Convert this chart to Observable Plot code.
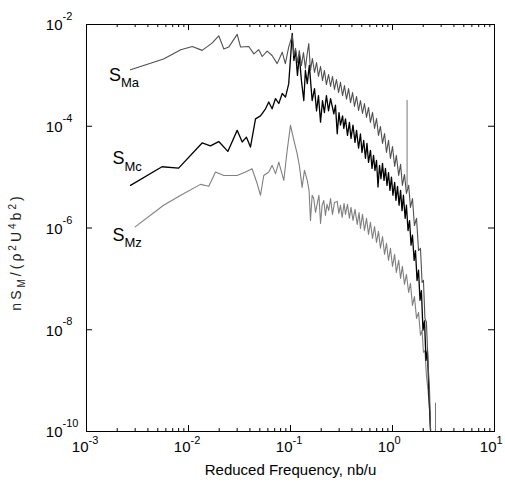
<!DOCTYPE html>
<html><head><meta charset="utf-8">
<script src="https://cdn.jsdelivr.net/npm/d3@7"></script>
<script src="https://cdn.jsdelivr.net/npm/@observablehq/plot@0.6"></script>
<style>
body{margin:0;background:#fff;}
#wrap{position:relative;width:505px;height:484px;font-family:"Liberation Sans",Arial,sans-serif;}
#ylab{position:absolute;left:17px;top:252px;transform:translate(-50%,-50%) rotate(-90deg);white-space:nowrap;font-size:14px;letter-spacing:3px;color:#222;}
#ylab sub{font-size:10px;}
#ylab sup{font-size:10px;}
</style></head><body>
<div id="wrap"><div id="ylab">nS<sub>M</sub>/(ρ<sup>2</sup>U<sup>4</sup>b<sup>2</sup>)</div></div>
<script>
// Reduced frequency nb/u, spectrum value
const seriesMa = [[0.0027,1.29e-3],[0.0057,2.1e-3],[0.0084,3.2e-3],[0.0109,3.7e-3],[0.0136,3.1e-3],[0.017,4.3e-3],[0.0198,6.0e-3],[0.0222,3.3e-3],[0.0248,3.6e-3],[0.030,6.4e-3],[0.0324,3.6e-3],[0.039,3.7e-3],[0.0437,2.65e-3],[0.0489,3.2e-3],[0.0528,2.35e-3],[0.059,3.0e-3],[0.066,2.46e-3],[0.074,1.7e-3],[0.083,2.86e-3],[0.089,1.7e-3],[0.096,3.6e-3],[0.104,6.1e-3],[0.108,2.46e-3],[0.112,3.4e-3],[0.117,1.78e-3],[0.122,3.08e-3],[0.128,1.56e-3],[0.134,2.82e-3],[0.140,1.37e-3],[0.145,2.46e-3],[0.151,4.2e-3],
[0.157,1.25e-3],[0.164,2.15e-3],[0.172,1.14e-3],[0.180,1.79e-3],[0.188,9.5e-4],[0.197,1.50e-3],[0.206,7.9e-4],[0.215,1.25e-3],[0.225,6.6e-4],[0.236,1.04e-3],[0.247,6.05e-4],[0.258,9.5e-4],[0.270,5.3e-4],[0.282,8.3e-4],[0.296,4.6e-4],[0.309,7.3e-4],[0.324,4.0e-4],[0.338,6.3e-4],[0.354,3.4e-4],[0.371,5.5e-4],[0.388,2.9e-4],[0.406,4.6e-4],[0.424,2.45e-4],[0.444,3.85e-4],[0.465,2.04e-4],[0.485,3.2e-4],[0.508,1.78e-4],[0.531,2.8e-4],[0.556,1.49e-4],[0.582,2.34e-4],[0.608,1.19e-4],[0.637,1.87e-4],[0.667,9.1e-5],[0.697,1.42e-4],[0.729,6.6e-5],[0.762,9.9e-5],[0.798,4.6e-5],[0.836,7.2e-5],[0.873,3.05e-5],[0.914,5.3e-5],[0.955,2.33e-5],[1.00,4.0e-5],[1.05,1.62e-5],[1.09,2.67e-5],[1.15,1.08e-5],[1.20,1.78e-5],[1.25,6.9e-6],[1.31,1.13e-5],[1.37,4.8e-6],[1.44,6.9e-6],[1.50,2.54e-6],[1.57,3.8e-6],[1.64,1.12e-6],[1.72,1.55e-6],[1.80,3.6e-7],[1.88,4.0e-7],[1.95,8.5e-8],[2.01,9.4e-8],[2.08,1.67e-8],[2.15,1.40e-8],[2.23,2.3e-9],[2.31,5.9e-10],[2.36,1.06e-10]];

const seriesMc = [[0.0027,6.9e-6],[0.0055,1.6e-5],[0.0080,1.5e-5],[0.0136,4.7e-5],[0.0164,4.1e-5],[0.0198,5.0e-5],[0.0243,3.2e-5],[0.030,8.3e-5],[0.0336,4.9e-5],[0.037,6.1e-5],[0.0405,3.9e-5],[0.0454,1.4e-4],[0.0508,1.6e-4],[0.0569,2.2e-4],[0.0612,3.0e-4],[0.066,2.2e-4],[0.0713,3.5e-4],[0.0768,2.8e-4],[0.083,4.4e-4],[0.0893,3.75e-4],[0.096,6.8e-4],
[0.104,6.65e-3],[0.108,1.96e-3],[0.112,3.1e-3],[0.117,1.0e-3],[0.122,2.45e-3],[0.128,7.9e-4],[0.135,3.2e-4],[0.140,1.26e-3],[0.146,6.9e-4],[0.153,1.57e-3],[0.163,3.2e-4],[0.172,5.5e-4],[0.180,2.0e-4],[0.188,4.0e-4],[0.197,1.2e-4],[0.206,3.2e-4],[0.215,1.86e-4],[0.225,4.0e-4],[0.236,2.0e-4],[0.247,3.5e-4],[0.266,1.76e-4],[0.276,2.6e-4],[0.287,7.1e-5],[0.299,1.86e-4],[0.309,1.05e-4],[0.324,1.6e-4],[0.333,9.1e-5],[0.346,1.4e-4],[0.362,6.6e-5],[0.378,1.19e-4],[0.392,5.75e-5],[0.410,1.05e-4],[0.429,4.8e-5],[0.444,8.3e-5],[0.465,3.7e-5],[0.485,7.1e-5],[0.502,3.05e-5],[0.522,5.25e-5],[0.543,2.35e-5],[0.562,4.6e-5],[0.582,1.95e-5],[0.608,3.35e-5],[0.630,1.48e-5],[0.652,2.67e-5],[0.673,1.35e-5],[0.697,2.14e-5],[0.721,6.4e-6],[0.746,1.7e-5],[0.771,9.3e-6],[0.798,1.86e-5],[0.826,8.6e-6],[0.853,1.48e-5],[0.883,6.9e-6],[0.914,1.23e-5],[0.944,5.5e-6],[0.977,1.0e-5],[1.01,4.4e-6],[1.05,7.9e-6],[1.08,3.5e-6],[1.12,6.6e-6],[1.16,2.8e-6],[1.20,5.5e-6],[1.24,2.2e-6],[1.28,4.4e-6],[1.33,1.55e-6],[1.37,2.8e-6],[1.42,8.9e-7],[1.47,1.4e-6],[1.52,4.6e-7],[1.57,7.2e-7],[1.63,2.3e-7],[1.68,3.6e-7],[1.74,9.3e-8],[1.80,1.48e-7],[1.86,3.8e-8],[1.92,5.9e-8],[1.99,9.8e-9],[2.06,1.5e-8],[2.13,2.5e-9],[2.20,3.9e-9],[2.28,5.1e-10],[2.36,1.05e-10]];

const seriesMz = [[0.0030,1.05e-6],[0.0057,2.8e-6],[0.0084,4.4e-6],[0.0131,7.2e-6],[0.0158,6.6e-6],[0.0184,1.26e-5],[0.0222,1.08e-5],[0.030,1.08e-5],[0.0362,1.26e-5],[0.042,1.46e-5],[0.0472,7.4e-6],[0.0508,4.4e-6],[0.0547,1.08e-5],[0.0612,1.26e-5],[0.066,1.7e-5],[0.0713,1.17e-5],[0.0768,1.97e-5],[0.0859,8.6e-6],[0.093,3.5e-5],
[0.100,1.04e-4],[0.108,5.3e-5],[0.116,2.92e-5],[0.122,1.70e-5],[0.130,6.3e-6],[0.137,1.36e-5],[0.146,8.6e-6],[0.152,5.5e-6],[0.157,1.41e-6],[0.163,4.4e-6],[0.169,3.8e-6],[0.176,2.02e-6],[0.183,3.04e-6],[0.190,4.4e-6],[0.197,1.23e-6],[0.204,2.78e-6],[0.212,3.48e-6],[0.220,1.77e-6],[0.228,2.91e-6],[0.237,2.22e-6],[0.247,3.8e-6],[0.258,1.85e-6],[0.270,3.18e-6],[0.287,3.33e-6],[0.298,1.94e-6],[0.309,2.78e-6],[0.321,1.61e-6],[0.335,3.04e-6],[0.346,1.85e-6],[0.362,2.91e-6],[0.378,1.55e-6],[0.392,2.54e-6],[0.410,1.41e-6],[0.429,2.32e-6],[0.451,1.18e-6],[0.470,2.02e-6],[0.485,9.8e-7],[0.508,1.85e-6],[0.531,9.0e-7],[0.556,1.55e-6],[0.582,7.5e-7],[0.608,1.29e-6],[0.637,6.25e-7],[0.667,1.07e-6],[0.697,5.2e-7],[0.729,8.6e-7],[0.762,4.0e-7],[0.798,6.8e-7],[0.836,3.03e-7],[0.873,5.0e-7],[0.914,2.31e-7],[0.955,4.0e-7],[1.00,1.76e-7],[1.05,3.03e-7],[1.09,1.34e-7],[1.15,2.31e-7],[1.20,1.02e-7],[1.25,1.76e-7],[1.31,7.8e-8],[1.37,1.22e-7],[1.44,5.4e-8],[1.50,8.2e-8],[1.57,3.0e-8],[1.64,4.5e-8],[1.72,1.67e-8],[1.80,2.2e-8],[1.88,7.8e-9],[1.95,9.7e-9],[2.01,3.6e-9],[2.08,3.9e-9],[2.15,1.27e-9],[2.23,6.5e-10],[2.31,2.6e-10],[2.36,1.06e-10]];

// isolated spikes
const spikeFreq = [1.39, 2.64];
const spikeLow = [6e-6, 1e-10];
const spikeHigh = [3.2e-4, 3.6e-10];

// series labels
const labelSub = ["Ma", "Mc", "Mz"];
const labelFreq = [0.0019, 0.00206, 0.00206];
const labelSpec = [1.02e-3, 2.33e-5, 7.2e-7];

// axes
const xDomain = [1e-3, 10];
const yDomain = [1e-10, 1e-2];
const xMajor = [1e-3, 1e-2, 1e-1, 1, 10];
const xExp = ["-3", "-2", "-1", "0", "1"];
const yMajor = [1e-10, 1e-8, 1e-6, 1e-4, 1e-2];
const yExp = ["-10", "-8", "-6", "-4", "-2"];
const xLabel = "Reduced Frequency, nb/u";

const W = 505, H = 484, mL = 86, mR = 11, mT = 24, mB = 53;
const fw = W - mL - mR, fh = H - mT - mB;
const xMinor = d3.scaleLog().domain(xDomain).ticks().filter(v => !xMajor.some(m => Math.abs(v / m - 1) < 1e-9));
const idx = a => a.map((_, i) => i);

const chart = Plot.plot({
  width: W, height: H,
  marginLeft: mL, marginRight: mR, marginTop: mT, marginBottom: mB,
  style: {fontFamily: "Liberation Sans, Arial, sans-serif", fontSize: "15px", background: "white", color: "black", overflow: "visible"},
  x: {type: "log", domain: xDomain, axis: null},
  y: {type: "log", domain: yDomain, axis: null},
  marks: [
    Plot.line(seriesMz, {x: d => d[0], y: d => d[1], stroke: "#808080", strokeWidth: 1.1}),
    Plot.line(seriesMc, {x: d => d[0], y: d => d[1], stroke: "#000", strokeWidth: 1.3}),
    Plot.line(seriesMa, {x: d => d[0], y: d => d[1], stroke: "#505050", strokeWidth: 1.1}),
    Plot.ruleX(idx(spikeFreq), {x: i => spikeFreq[i], y1: i => spikeLow[i], y2: i => spikeHigh[i], stroke: "#777", strokeWidth: 1, strokeDasharray: i => i === 1 ? "1.5,1.5" : null}),
    Plot.frame({stroke: "black", strokeWidth: 1}),
    // x ticks bottom & top
    Plot.tickX(xMajor, {x: d => d, insetTop: fh - 6, stroke: "black"}),
    Plot.tickX(xMajor, {x: d => d, insetBottom: fh - 6, stroke: "black"}),
    Plot.tickX(xMinor, {x: d => d, insetTop: fh - 3, stroke: "black"}),
    Plot.tickX(xMinor, {x: d => d, insetBottom: fh - 3, stroke: "black"}),
    // y ticks left & right
    Plot.tickY(yMajor, {y: d => d, insetRight: fw - 6, stroke: "black"}),
    Plot.tickY(yMajor, {y: d => d, insetLeft: fw - 6, stroke: "black"}),
    // x tick labels
    Plot.text(xMajor, {x: d => d, frameAnchor: "bottom", text: () => "10", textAnchor: "end", dx: 2, dy: 20, fontSize: 15}),
    Plot.text(idx(xMajor), {x: i => xMajor[i], frameAnchor: "bottom", text: i => xExp[i], textAnchor: "start", dx: 2, dy: 12, fontSize: 11}),
    // y tick labels
    Plot.text(yMajor, {y: d => d, frameAnchor: "left", text: () => "10", textAnchor: "end", dx: -24, dy: 1, fontSize: 15}),
    Plot.text(idx(yMajor), {y: i => yMajor[i], frameAnchor: "left", text: i => yExp[i], textAnchor: "start", dx: -24, dy: -8, fontSize: 11}),
    // series labels
    Plot.text(idx(labelSub), {x: i => labelFreq[i], y: i => labelSpec[i], text: () => "S", fontSize: 18, textAnchor: "middle"}),
    Plot.text(idx(labelSub), {x: i => labelFreq[i], y: i => labelSpec[i], text: i => labelSub[i], fontSize: 13, textAnchor: "start", dx: 6, dy: 8}),
    // x axis label
    Plot.text([xLabel], {frameAnchor: "bottom", text: d => d, dy: 43, fontSize: 15})
  ]
});
document.getElementById("wrap").prepend(chart);
</script>
</body></html>
